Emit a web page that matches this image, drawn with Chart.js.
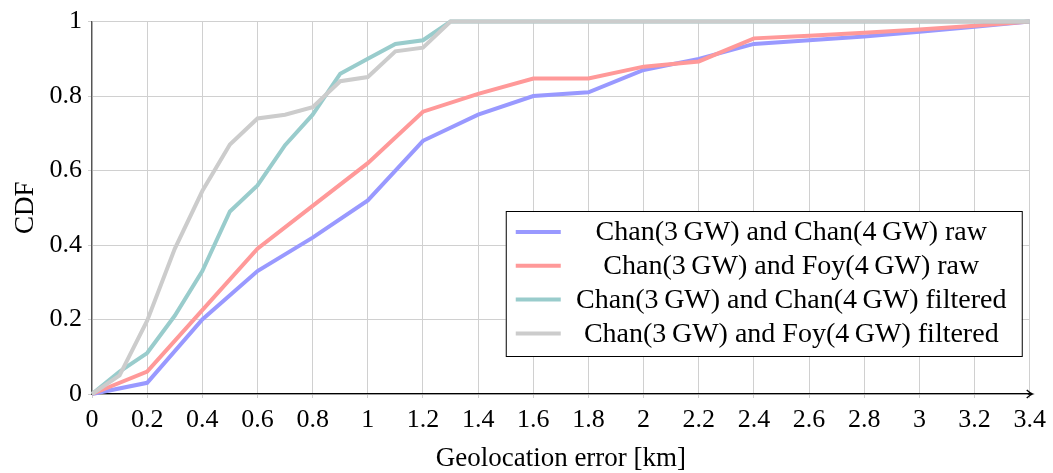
<!DOCTYPE html>
<html>
<head>
<meta charset="utf-8">
<script src="https://cdn.jsdelivr.net/npm/chart.js@4/dist/chart.umd.min.js"></script>
<style>
  body { margin: 0; background: #fff; }
  canvas { display: block; }
</style>
</head>
<body>
<canvas id="cdf" width="1053" height="473"></canvas>
<script>
// values
var xRaw = [0, 0.2, 0.4, 0.6, 0.8, 1, 1.2, 1.4, 1.6, 1.8, 2, 2.2, 2.4, 2.6, 2.8, 3, 3.2, 3.4];
var chanRaw = [0, 0.03, 0.2, 0.33, 0.42, 0.52, 0.68, 0.75, 0.8, 0.81, 0.87, 0.9, 0.94, 0.95, 0.96, 0.973, 0.986, 1];
var foyRaw = [0, 0.06, 0.225, 0.39, 0.505, 0.62, 0.758, 0.806, 0.847, 0.847, 0.879, 0.893, 0.955, 0.962, 0.97, 0.979, 0.989, 1];

var xFilt = [0, 0.1, 0.2, 0.3, 0.4, 0.5, 0.6, 0.7, 0.8, 0.9, 1, 1.1, 1.2, 1.3, 3.4];
var chanFilt = [0, 0.06, 0.11, 0.21, 0.33, 0.49, 0.56, 0.668, 0.75, 0.86, 0.9, 0.94, 0.95, 1, 1];
var foyFilt = [0, 0.05, 0.197, 0.39, 0.545, 0.67, 0.74, 0.75, 0.77, 0.84, 0.851, 0.92, 0.93, 1, 1];

var seriesLabels = [
    "Chan(3\u2009GW) and Chan(4\u2009GW) raw",
    "Chan(3\u2009GW) and Foy(4\u2009GW) raw",
    "Chan(3\u2009GW) and Chan(4\u2009GW) filtered",
    "Chan(3\u2009GW) and Foy(4\u2009GW) filtered"
];
var seriesColors = ['#9999ff', '#ff9999', '#99cccc', '#cccccc'];

var FONT = "'Liberation Serif', 'Times New Roman', serif";

function toPoints(xs, ys){
    var pts = [];
    for(var i = 0; i < xs.length; i++){
        pts.push({x: xs[i], y: ys[i]});
    }
    return pts;
}

function fmt(v){
    return String(Number(v.toFixed(1)));
}

// boxed legend inside the plot, like pgfplots
var boxLegend = {
    id: 'boxLegend',
    afterDatasetsDraw: function(chart){
        var ctx = chart.ctx;
        var area = chart.chartArea;
        var w = 516, h = 145;
        var right = area.right - 8;
        var bottom = area.bottom - 38;
        var left = right - w, top = bottom - h;
        ctx.save();
        ctx.fillStyle = '#fff';
        ctx.fillRect(left, top, w, h);
        ctx.strokeStyle = '#000';
        ctx.lineWidth = 1;
        ctx.strokeRect(left + 0.5, top + 0.5, w, h);
        ctx.font = "28px " + FONT;
        ctx.textAlign = 'center';
        ctx.textBaseline = 'middle';
        ctx.fillStyle = '#000';
        var ds = chart.data.datasets;
        for(var i = 0; i < ds.length; i++){
            var yy = top + 21 + i * 33.8;
            ctx.strokeStyle = ds[i].borderColor;
            ctx.lineWidth = 4;
            ctx.beginPath();
            ctx.moveTo(left + 10, yy);
            ctx.lineTo(left + 55, yy);
            ctx.stroke();
            ctx.fillText(ds[i].label, (left + 55 + right) / 2, yy + 1);
        }
        ctx.restore();
    }
};

// little arrow head at the end of the x axis
var axisArrow = {
    id: 'axisArrow',
    afterDraw: function(chart){
        var ctx = chart.ctx;
        var area = chart.chartArea;
        var y = area.bottom;
        ctx.save();
        ctx.strokeStyle = '#000';
        ctx.lineWidth = 1.3;
        ctx.beginPath();
        ctx.moveTo(area.right - 2, y);
        ctx.lineTo(area.right + 3, y);
        ctx.moveTo(area.right - 3, y - 4);
        ctx.quadraticCurveTo(area.right, y - 1, area.right + 3, y);
        ctx.quadraticCurveTo(area.right, y + 1, area.right - 3, y + 4);
        ctx.stroke();
        ctx.restore();
    }
};

var allX = [xRaw, xRaw, xFilt, xFilt];
var allY = [chanRaw, foyRaw, chanFilt, foyFilt];
var datasets = [];
for(var i = 0; i < seriesLabels.length; i++){
    datasets.push({
        label: seriesLabels[i],
        data: toPoints(allX[i], allY[i]),
        borderColor: seriesColors[i],
        backgroundColor: seriesColors[i],
        borderWidth: 4,
        pointRadius: 0,
        tension: 0,
        clip: false,
        order: seriesLabels.length - i
    });
}

var ctx = document.getElementById('cdf').getContext('2d');
var myChart = new Chart(ctx, {
    type: 'line',
    data: { datasets: datasets },
    options: {
        responsive: false,
        animation: false,
        layout: { padding: { top: 18, right: 22, left: 0, bottom: 0 } },
        plugins: {
            legend: { display: false },
            tooltip: { enabled: false }
        },
        scales: {
            x: {
                type: 'linear',
                min: 0,
                max: 3.4,
                afterFit: function(s){ s.height = 79; },
                grid: { color: '#d0d0d0', lineWidth: 1, tickLength: 4 },
                border: { color: '#000', width: 1.3 },
                ticks: {
                    stepSize: 0.2,
                    autoSkip: false,
                    maxRotation: 0,
                    padding: 7,
                    color: '#000',
                    font: { family: FONT, size: 26 },
                    callback: function(v){ return fmt(v); }
                },
                title: {
                    display: true,
                    text: 'Geolocation error [km]',
                    color: '#000',
                    font: { family: FONT, size: 27, lineHeight: 1.05 },
                    padding: 0
                }
            },
            y: {
                min: 0,
                max: 1,
                afterFit: function(s){ s.width = 92; },
                grid: { color: '#d0d0d0', lineWidth: 1, tickLength: 4 },
                border: { color: '#555', width: 1.3 },
                ticks: {
                    stepSize: 0.2,
                    padding: 6,
                    color: '#000',
                    font: { family: FONT, size: 26 },
                    callback: function(v){ return fmt(v); }
                },
                title: {
                    display: true,
                    text: 'CDF',
                    color: '#000',
                    font: { family: FONT, size: 27, lineHeight: 1.2 },
                    padding: { top: 10 }
                }
            }
        }
    },
    plugins: [boxLegend, axisArrow]
});
</script>
</body>
</html>
